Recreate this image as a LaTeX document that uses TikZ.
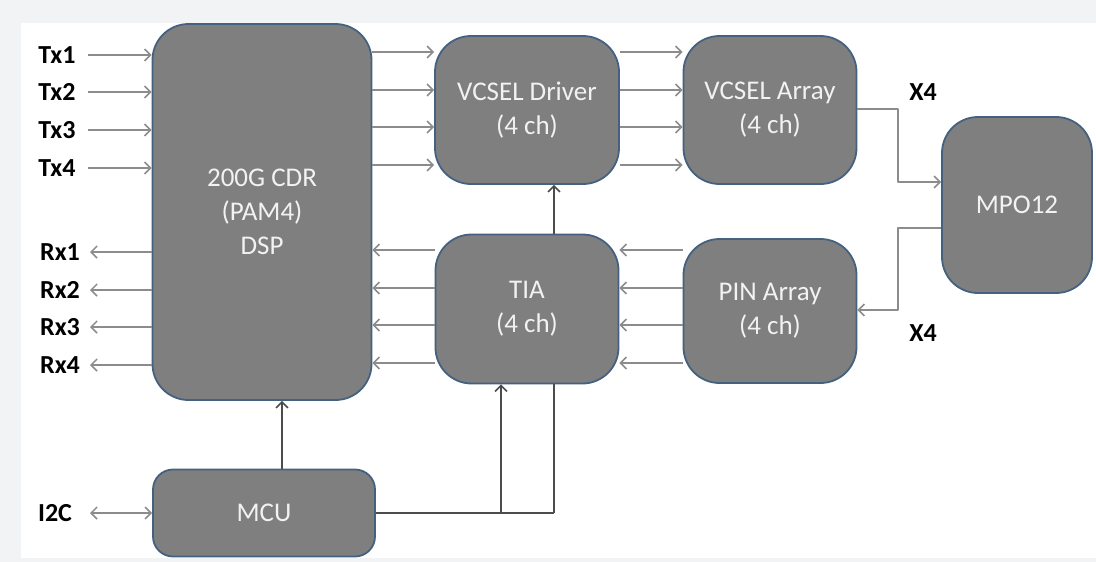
\documentclass[tikz,border=0pt]{standalone}
\usepackage{fontspec}
\setmainfont{Carlito}
\usetikzlibrary{arrows.meta}
\definecolor{boxgray}{HTML}{7F7F7F}
\definecolor{boxedge}{HTML}{44627F}
\definecolor{linegray}{HTML}{8C8C8C}
\definecolor{bggray}{HTML}{F2F3F5}
\tikzset{
  blk/.style={draw=boxedge, line width=1.8pt, fill=boxgray, rounded corners=36pt,
    text=white!95!black, font=\fontsize{27}{34}\selectfont, align=center, inner sep=0pt},
  barb/.tip={Straight Barb[length=6pt,width=12pt]},
  sig/.style={draw=linegray, line width=1.5pt, -barb},
  ctl/.style={draw=black!70, line width=1.5pt},
  lbl/.style={font=\bfseries\fontsize{26}{28}\selectfont, text=black}
}
\begin{document}
\begin{tikzpicture}[x=1pt, y=-1pt, line join=round]
	\useasboundingbox (0,0) rectangle (1096,562);
	\fill[bggray] (0,0) rectangle (1096,562);
	\fill[white] (21,23) rectangle (1096,558);
	% blocks
	\node[blk, minimum width=219pt, minimum height=376pt] (cdr) at (262,212) {200G CDR\\(PAM4)\\DSP};
	\node[blk, minimum width=184pt, minimum height=148pt] (drv) at (527,110) {VCSEL Driver\\(4 ch)};
	\node[blk, minimum width=173pt, minimum height=148pt] (vca) at (770,110) {VCSEL Array\\(4 ch)};
	\node[blk, minimum width=150pt, minimum height=176pt] (mpo) at (1017,205) {MPO12};
	\node[blk, minimum width=183pt, minimum height=149pt] (tia) at (527,309) {TIA\\(4 ch)};
	\node[blk, minimum width=173pt, minimum height=144pt] (pin) at (770,311) {PIN Array\\(4 ch)};
	\node[blk, rounded corners=20pt, minimum width=222pt, minimum height=87pt] (mcu) at (264,513) {MCU};
	% host side labels
	\foreach \i/\y in {1/55,2/92,3/130,4/168} {
		\node[lbl] (tx\i) at (57,\y) {Tx\i};
		\draw[sig] (88,\y) -- (cdr.west |- 0,\y);
	}
	\foreach \i/\y in {1/252,2/290,3/327,4/365} {
		\node[lbl] (rx\i) at (60,\y) {Rx\i};
		\draw[sig] (cdr.west |- 0,\y) -- (90,\y);
	}
	\node[lbl] (i2c) at (55,513) {I2C};
	\draw[sig, barb-barb] (90,513) -- (mcu.west);
	% transmit lanes
	\foreach \y in {52,90,127,165} {
		\draw[sig] (cdr.east |- 0,\y) -- (drv.west |- 0,\y);
		\draw[sig] (drv.east |- 0,\y) -- (vca.west |- 0,\y);
	}
	% receive lanes
	\foreach \y in {250,288,325,363} {
		\draw[sig] (tia.west |- 0,\y) -- (cdr.east |- 0,\y);
		\draw[sig] (pin.west |- 0,\y) -- (tia.east |- 0,\y);
	}
	% optics
	\draw[sig] (vca.east |- 0,109) -| (898,182) -- (mpo.west |- 0,182);
	\draw[sig] (mpo.west |- 0,228) -| (898,310) -- (pin.east |- 0,310);
	\node[lbl] (x4a) at (923,92) {X4};
	\node[lbl] (x4b) at (923,333) {X4};
	% control
	\coordinate (j1) at (501,513);
	\coordinate (j2) at (554,513);
	\draw[ctl, -barb] (mcu.north -| 282,0) -- (cdr.south -| 282,0);
	\draw[ctl] (mcu.east) -- (j2);
	\draw[ctl, -barb] (j1) -- (tia.south -| j1);
	\draw[ctl] (j2) -- (tia.south -| j2);
	\draw[ctl, -barb] (tia.north -| j2) -- (drv.south -| j2);
\end{tikzpicture}
\end{document}
